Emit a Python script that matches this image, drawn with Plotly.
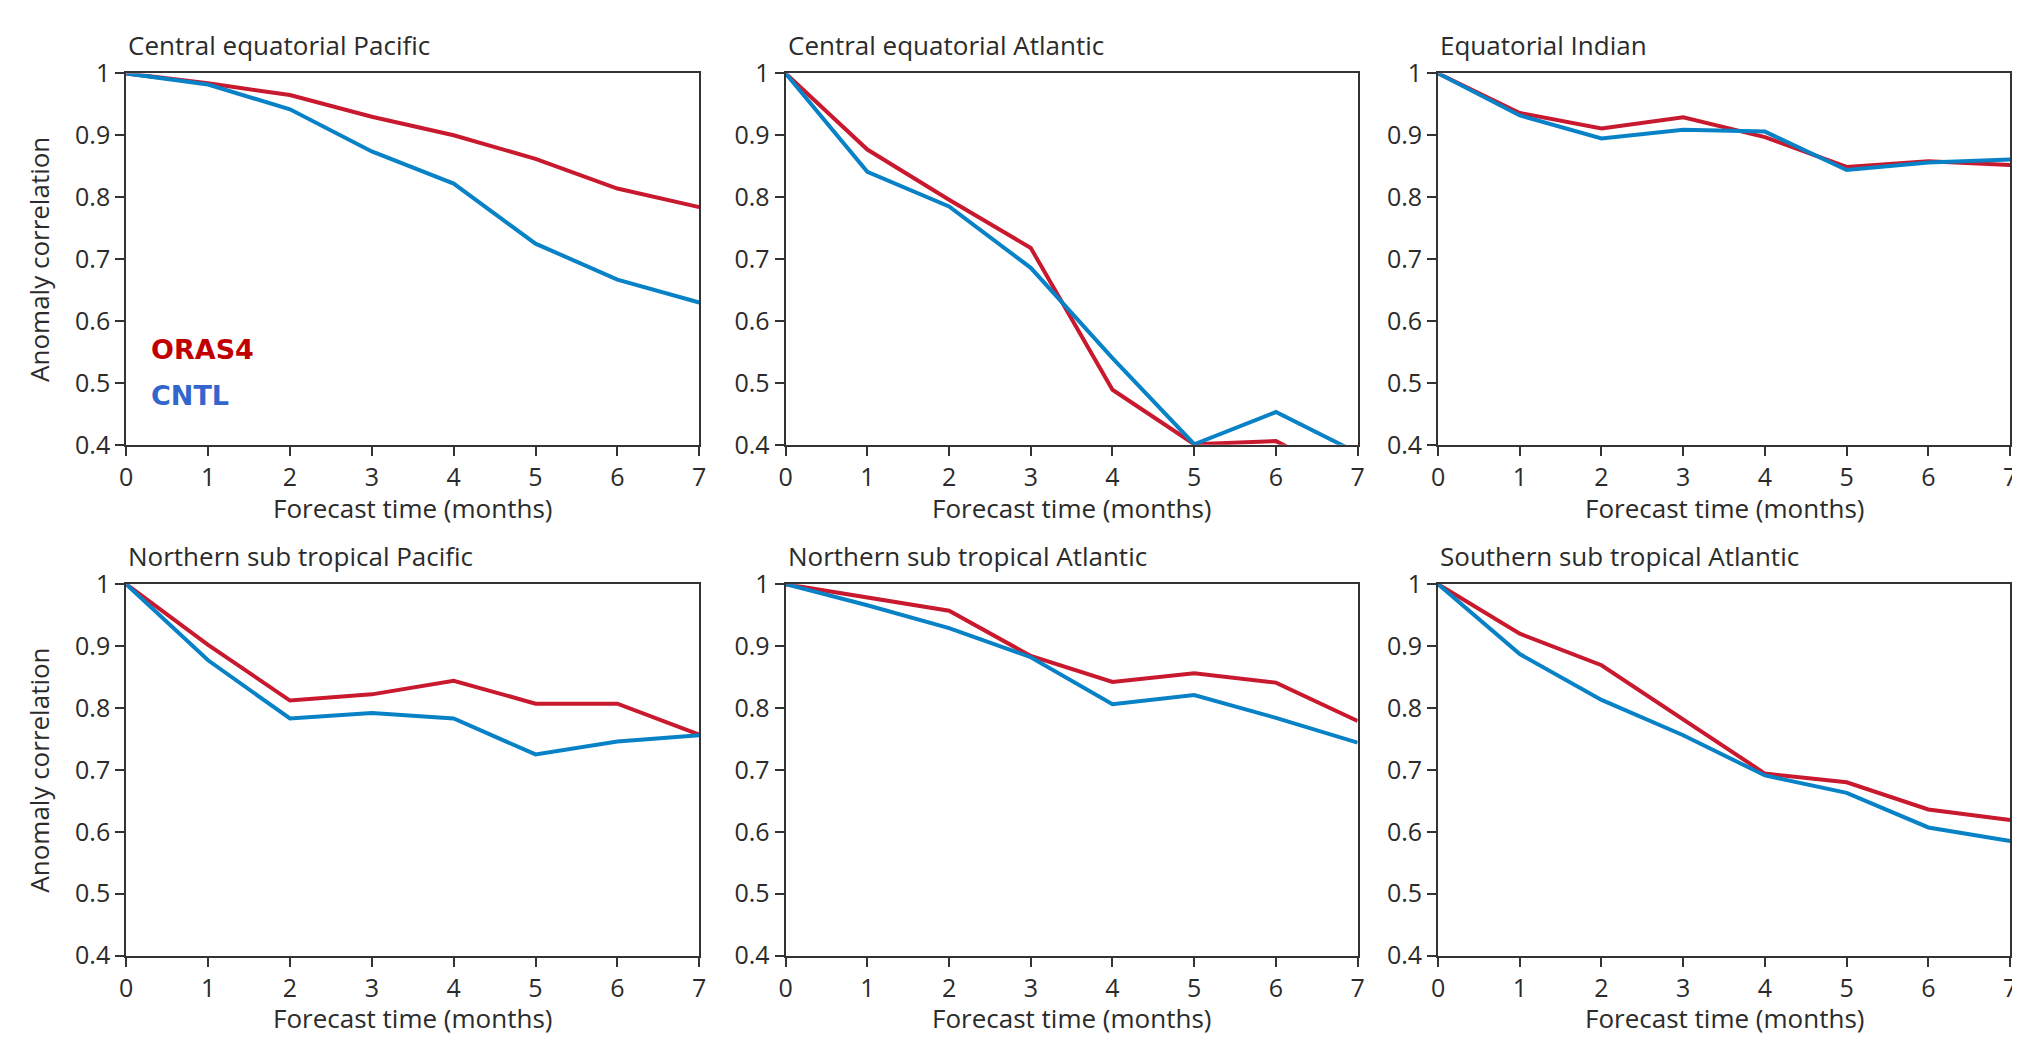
import plotly.graph_objects as go

months = [0, 1, 2, 3, 4, 5, 6, 7]

titles = [
    "Central equatorial Pacific",
    "Central equatorial Atlantic",
    "Equatorial Indian",
    "Northern sub tropical Pacific",
    "Northern sub tropical Atlantic",
    "Southern sub tropical Atlantic",
]

oras4_cep = [1.0, 0.984, 0.965, 0.930, 0.900, 0.862, 0.814, 0.784]
cntl_cep = [1.0, 0.982, 0.942, 0.874, 0.822, 0.725, 0.667, 0.630]

oras4_cea = [1.0, 0.877, 0.796, 0.718, 0.489, 0.401, 0.406, 0.340]
cntl_cea = [1.0, 0.841, 0.785, 0.686, 0.540, 0.401, 0.453, 0.387]

oras4_ei = [1.0, 0.936, 0.911, 0.929, 0.897, 0.849, 0.858, 0.852]
cntl_ei = [1.0, 0.932, 0.895, 0.909, 0.906, 0.844, 0.856, 0.861]

oras4_nsp = [1.0, 0.902, 0.812, 0.822, 0.844, 0.807, 0.807, 0.757]
cntl_nsp = [1.0, 0.877, 0.783, 0.792, 0.783, 0.725, 0.746, 0.756]

oras4_nsa = [1.0, 0.979, 0.957, 0.884, 0.842, 0.856, 0.841, 0.779]
cntl_nsa = [1.0, 0.966, 0.929, 0.882, 0.806, 0.821, 0.784, 0.744]

oras4_ssa = [1.0, 0.920, 0.869, 0.782, 0.694, 0.680, 0.636, 0.619]
cntl_ssa = [1.0, 0.887, 0.813, 0.756, 0.691, 0.663, 0.607, 0.585]

oras4_all = [oras4_cep, oras4_cea, oras4_ei, oras4_nsp, oras4_nsa, oras4_ssa]
cntl_all = [cntl_cep, cntl_cea, cntl_ei, cntl_nsp, cntl_nsa, cntl_ssa]

y_ticks = [0.4, 0.5, 0.6, 0.7, 0.8, 0.9, 1.0]
y_ticktext = ["0.4", "0.5", "0.6", "0.7", "0.8", "0.9", "1"]

W, H = 2020, 1041
RED = "#C8192E"
BLUE = "#0882C6"
AX = "#333333"
FONT = "Open Sans"

col_px = [(112, 689), (776, 1352), (1433, 2009)]
row_px = [(49, 433), (577, 961)]

fig = go.Figure()
annotations = []

for i in range(6):
    r, c = divmod(i, 3)
    n = i + 1
    xa = "xaxis" if n == 1 else f"xaxis{n}"
    ya = "yaxis" if n == 1 else f"yaxis{n}"
    xref = "x" if n == 1 else f"x{n}"
    yref = "y" if n == 1 else f"y{n}"
    x0, x1 = col_px[c]
    y0, y1 = row_px[r]
    fig.add_trace(go.Scatter(x=months, y=oras4_all[i], mode="lines",
                             line=dict(color=RED, width=4),
                             xaxis=xref, yaxis=yref, showlegend=False))
    fig.add_trace(go.Scatter(x=months, y=cntl_all[i], mode="lines",
                             line=dict(color=BLUE, width=4),
                             xaxis=xref, yaxis=yref, showlegend=False))
    common = dict(showline=True, mirror=True, linecolor=AX, linewidth=2,
                  ticks="outside", ticklen=9, tickwidth=2, tickcolor=AX,
                  showgrid=False, zeroline=False,
                  tickfont=dict(family=FONT, size=25, color="#2b2b2b"))
    fig.layout[xa] = dict(domain=[x0 / W, x1 / W], range=[0, 7],
                          tickvals=months, anchor=yref, **common)
    fig.layout[ya] = dict(domain=[1 - y1 / H, 1 - y0 / H], range=[0.4, 1.0],
                          tickvals=y_ticks, ticktext=y_ticktext, anchor=xref, **common)
    # panel title
    annotations.append(dict(text=titles[i], xref="paper", yref="paper",
                            x=x0 / W, y=1 - (y0 - 29) / H, xanchor="left", yanchor="middle",
                            showarrow=False, font=dict(family=FONT, size=26, color="#2b2b2b")))
    # x axis title
    annotations.append(dict(text="Forecast time (months)", xref="paper", yref="paper",
                            x=(x0 + x1) / 2 / W, y=1 - (y1 + 65) / H, xanchor="center", yanchor="middle",
                            showarrow=False, font=dict(family=FONT, size=26, color="#2b2b2b")))
    if c == 0:
        annotations.append(dict(text="Anomaly correlation", xref="paper", yref="paper",
                                x=24 / W, y=1 - (y0 + y1) / 2 / H, xanchor="center", yanchor="middle",
                                textangle=-90, showarrow=False,
                                font=dict(family=FONT, size=26, color="#2b2b2b")))

annotations.append(dict(text="<b>ORAS4</b>", xref="paper", yref="paper",
                        x=135 / W, y=1 - 334 / H, xanchor="left", yanchor="middle",
                        showarrow=False, font=dict(family="DejaVu Sans", size=27, color="#C00000")))
annotations.append(dict(text="<b>CNTL</b>", xref="paper", yref="paper",
                        x=135 / W, y=1 - 382 / H, xanchor="left", yanchor="middle",
                        showarrow=False, font=dict(family="DejaVu Sans", size=27, color="#3366CC")))

fig.update_layout(width=W, height=H, margin=dict(l=0, r=0, t=0, b=0),
                  paper_bgcolor="white", plot_bgcolor="white",
                  annotations=annotations, showlegend=False)

fig.write_html("out.html", config={"displayModeBar": False})
